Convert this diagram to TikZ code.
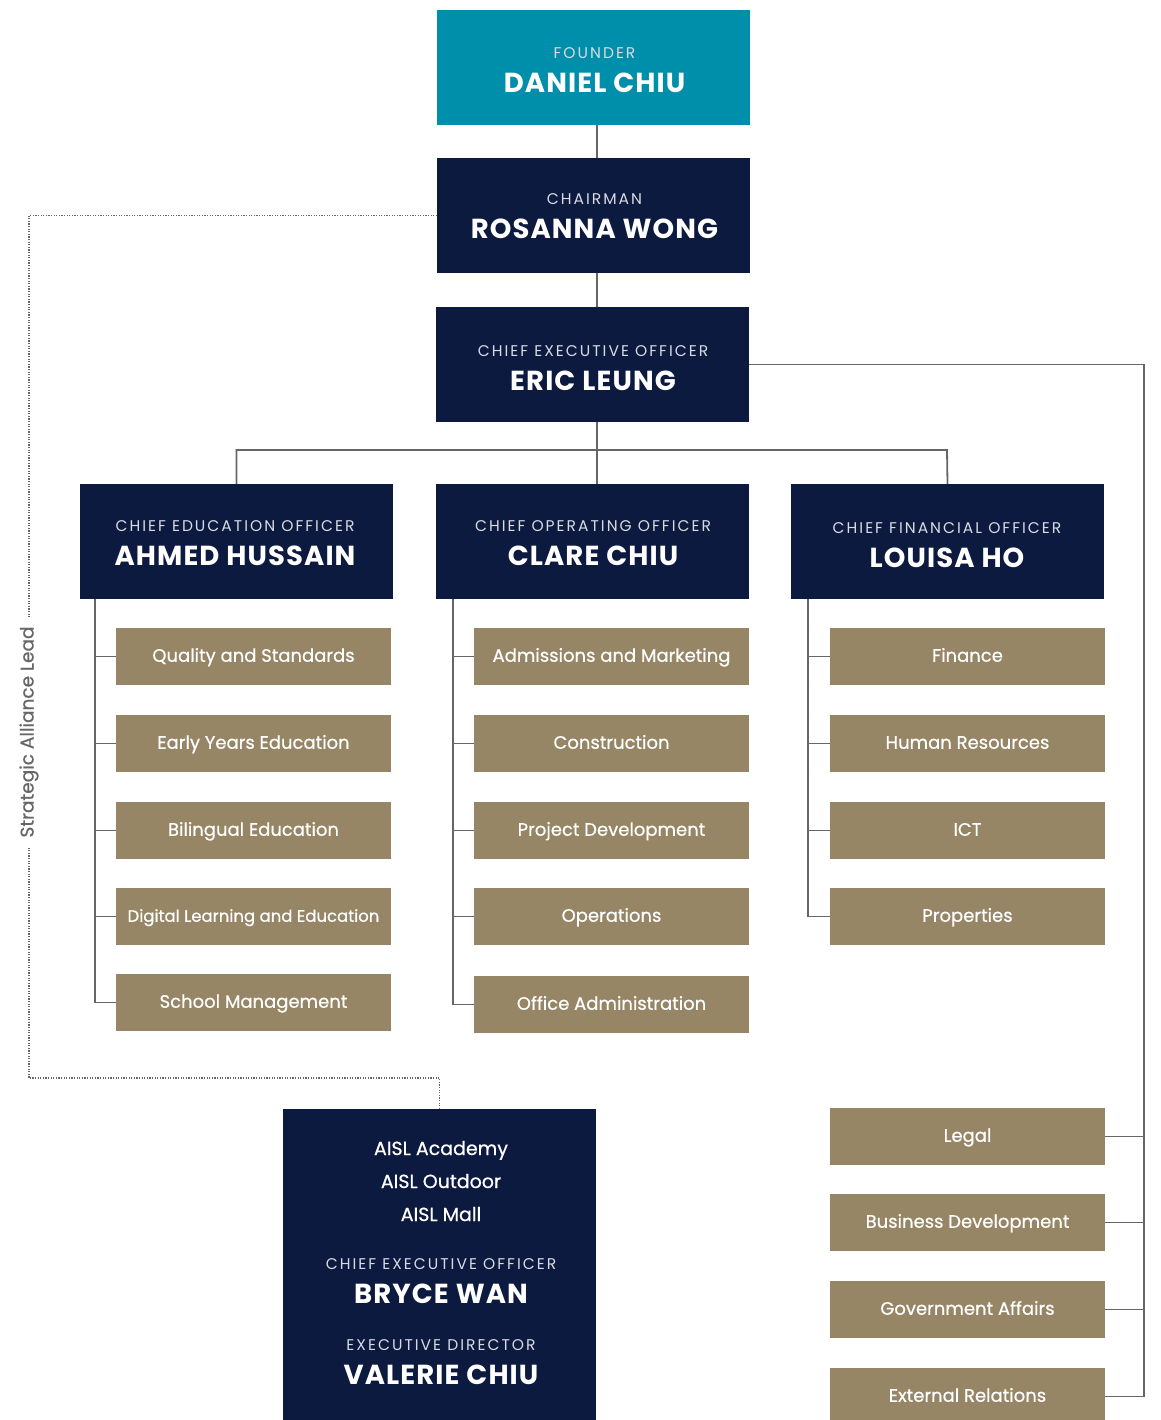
\documentclass[tikz,border=0pt]{standalone}
\usepackage{fontspec}
\setmainfont{Poppins}
\newfontfamily\namefam[LetterSpace=4]{Poppins}
\newfontfamily\titlefam[LetterSpace=13]{Poppins}
\newfontfamily\deptfam[FakeBold=0.6]{Poppins}
\definecolor{teal}{HTML}{008FAA}
\definecolor{navy}{HTML}{0D1A40}
\definecolor{gold}{HTML}{978665}
\definecolor{lgray}{HTML}{666666}
\definecolor{tgray}{HTML}{D8DBE2}
\begin{document}
\begin{tikzpicture}[x=1pt,y=-1pt,
  exec/.style={rectangle,fill=navy,minimum width=313pt,minimum height=115pt,inner sep=0pt,outer sep=0pt},
  dept/.style={rectangle,fill=gold,minimum width=275pt,minimum height=57pt,inner sep=0pt,outer sep=0pt,
    text=white,font=\deptfam\fontsize{18}{20}\selectfont,text height=10.5pt,text depth=0pt},
  ttl/.style={anchor=base,text=tgray,inner sep=0pt,font=\titlefam\fontsize{15.5}{16}\selectfont},
  nm/.style={anchor=base,text=white,inner sep=0pt,font=\namefam\bfseries\fontsize{27.5}{30}\selectfont},
  aisl/.style={anchor=base,text=white,inner sep=0pt,font=\deptfam\fontsize{19}{20}\selectfont},
  conn/.style={draw=lgray,line width=1.8pt},
  dots/.style={draw=lgray,line width=1.5pt,dash pattern=on 1.2pt off 1.4pt}]
\useasboundingbox (0,0) rectangle (1160,1420);
\clip (0,0) rectangle (1160,1420);
\fill[white] (0,0) rectangle (1160,1420);

% executive boxes
\node[exec,fill=teal] (founder) at (593.5,67.5) {};
\node[exec] (chair) at (593.5,215.5) {};
\node[exec] (ceo) at (592.5,364.5) {};
\node[exec] (cedo) at (236.5,541.5) {};
\node[exec] (coo) at (592.5,541.5) {};
\node[exec] (cfo) at (947.5,541.5) {};
\node[exec,minimum height=330pt] (aislbox) at (439.5,1274) {};

% executive texts
\node[ttl] (t0) at (594.5,59) {FOUNDER};
\node[nm] (n0) at (594.5,93) {DANIEL CHIU};
\node[ttl] (t1) at (594.5,205) {CHAIRMAN};
\node[nm] (n1) at (594.5,239) {ROSANNA WONG};
\node[ttl] (t2) at (593,356) {CHIEF EXECUTIVE OFFICER};
\node[nm] (n2) at (593,390) {ERIC LEUNG};
\node[ttl] (t3) at (235,531) {CHIEF EDUCATION OFFICER};
\node[nm] (n3) at (235,565) {AHMED HUSSAIN};
\node[ttl] (t4) at (593,531) {CHIEF OPERATING OFFICER};
\node[nm] (n4) at (593,565) {CLARE CHIU};
\node[ttl] (t5) at (947,533) {CHIEF FINANCIAL OFFICER};
\node[nm] (n5) at (947,567) {LOUISA HO};

\node[aisl] (a1) at (441,1155) {AISL Academy};
\node[aisl] (a2) at (441,1188) {AISL Outdoor};
\node[aisl] (a3) at (441,1221) {AISL Mall};
\node[ttl] (t6) at (441,1269) {CHIEF EXECUTIVE OFFICER};
\node[nm] (n6) at (441,1303) {BRYCE WAN};
\node[ttl] (t7) at (441,1350) {EXECUTIVE DIRECTOR};
\node[nm] (n7) at (441,1384) {VALERIE CHIU};

% departments
\node[dept] (e1) at (253.5,656.5) {Quality and Standards};
\node[dept] (e2) at (253.5,743.5) {Early Years Education};
\node[dept] (e3) at (253.5,830.5) {Bilingual Education};
\node[dept,font=\deptfam\fontsize{16.5}{20}\selectfont] (e4) at (253.5,916.5) {Digital Learning and Education};
\node[dept] (e5) at (253.5,1002.5) {School Management};

\node[dept] (o1) at (611.5,656.5) {Admissions and Marketing};
\node[dept] (o2) at (611.5,743.5) {Construction};
\node[dept] (o3) at (611.5,830.5) {Project Development};
\node[dept] (o4) at (611.5,916.5) {Operations};
\node[dept] (o5) at (611.5,1004.5) {Office Administration};

\node[dept] (f1) at (967.5,656.5) {Finance};
\node[dept] (f2) at (967.5,743.5) {Human Resources};
\node[dept] (f3) at (967.5,830.5) {ICT};
\node[dept] (f4) at (967.5,916.5) {Properties};

\node[dept] (r1) at (967.5,1136.5) {Legal};
\node[dept] (r2) at (967.5,1222.5) {Business Development};
\node[dept] (r3) at (967.5,1309.5) {Government Affairs};
\node[dept] (r4) at (967.5,1396.5) {External Relations};

% coordinates
\coordinate (spine) at (597,0);
\coordinate (bus) at (947,450);
\coordinate (sL) at (95,599);
\coordinate (sM) at (453,599);
\coordinate (sF) at (808,599);
\coordinate (rb) at (1144,1396.5);
\coordinate (dl) at (29,1078);

% connectors
\draw[conn] (spine |- founder.south) -- (spine |- chair.north);
\draw[conn] (spine |- chair.south) -- (spine |- ceo.north);
\draw[conn] (spine |- ceo.south) -- (spine |- coo.north);
\draw[conn] (cedo.north) |- (bus) -- (cfo.north);

\draw[conn] (sL) |- (e5.west);
\foreach \d in {e1,e2,e3,e4} \draw[conn] (sL |- \d.west) -- (\d.west);
\draw[conn] (sM) |- (o5.west);
\foreach \d in {o1,o2,o3,o4} \draw[conn] (sM |- \d.west) -- (\d.west);
\draw[conn] (sF) |- (f4.west);
\foreach \d in {f1,f2,f3} \draw[conn] (sF |- \d.west) -- (\d.west);

\draw[conn] (ceo.east) -| (rb) -- (r4.east);
\foreach \d in {r1,r2,r3} \draw[conn] (\d.east) -- (\d.east -| rb);

% dotted strategic alliance line
\draw[dots] (chair.west) -| (dl) -| (aislbox.north);
\node[fill=white,rotate=90,inner xsep=8pt,inner ysep=2pt,text=lgray,font=\deptfam\fontsize{18.5}{20}\selectfont] (sal) at (29,732) {Strategic Alliance Lead};
\end{tikzpicture}
\end{document}
